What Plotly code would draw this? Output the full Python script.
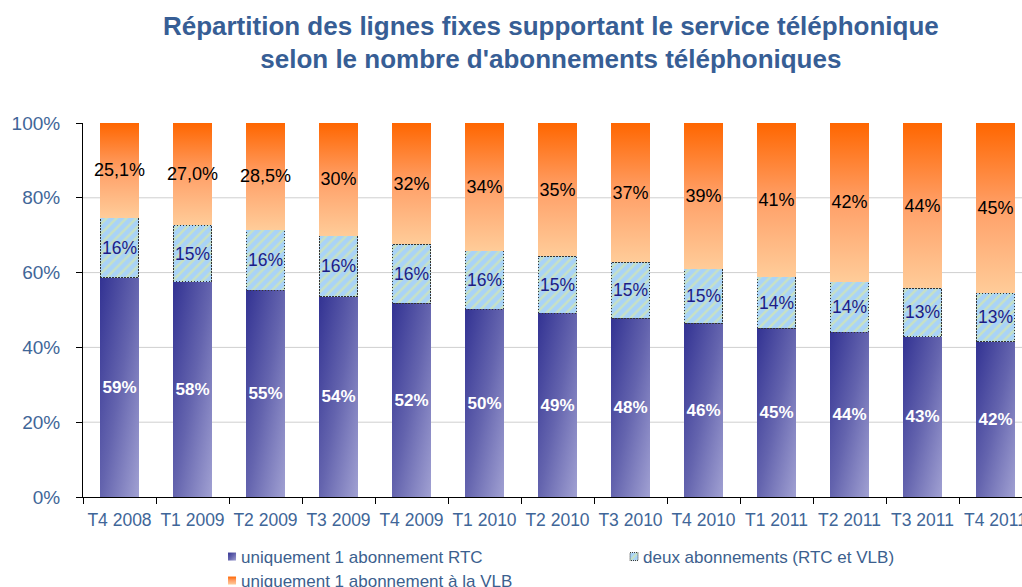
import plotly.graph_objects as go

# ---------------- data ----------------
categories = ["T4 2008", "T1 2009", "T2 2009", "T3 2009", "T4 2009", "T1 2010", "T2 2010",
              "T3 2010", "T4 2010", "T1 2011", "T2 2011", "T3 2011", "T4 2011"]
rtc_only = [58.6, 57.5, 55.3, 53.6, 51.8, 50.2, 49.1, 47.8, 46.4, 45.1, 44.0, 42.9, 41.5]
both_subs = [16.1, 15.2, 16.1, 16.2, 15.8, 15.6, 15.3, 15.0, 14.6, 13.8, 13.6, 12.9, 13.0]
vlb_only = [25.3, 27.3, 28.6, 30.2, 32.4, 34.2, 35.6, 37.2, 39.0, 41.1, 42.4, 44.2, 45.5]
rtc_labels = ["59%", "58%", "55%", "54%", "52%", "50%", "49%", "48%", "46%", "45%", "44%", "43%", "42%"]
both_labels = ["16%", "15%", "16%", "16%", "16%", "16%", "15%", "15%", "15%", "14%", "14%", "13%", "13%"]
vlb_labels = ["25,1%", "27,0%", "28,5%", "30%", "32%", "34%", "35%", "37%", "39%", "41%", "42%", "44%", "45%"]
series_names = ["uniquement 1 abonnement RTC", "deux abonnements (RTC et VLB)",
                "uniquement 1 abonnement à la VLB"]
y_tick_vals = [0, 20, 40, 60, 80, 100]
y_tick_text = ["0%", "20%", "40%", "60%", "80%", "100%"]
grid_vals = [20, 40, 60, 80]

FONT = "Liberation Sans, Arial, sans-serif"
AXIS_BLUE = "#3F6698"

fig = go.Figure()
common = dict(textposition="inside", insidetextanchor="middle", textangle=0,
              constraintext="none", hoverinfo="skip", cliponaxis=False)
fig.add_trace(go.Bar(
    x=categories, y=rtc_only, name=series_names[0], text=rtc_labels,
    marker=dict(color="#5A5AA8", line=dict(width=0)),
    insidetextfont=dict(family=FONT, size=17, color="white", weight="bold"),
    legend="legend", **common))
fig.add_trace(go.Bar(
    x=categories, y=both_subs, name=series_names[1], text=both_labels,
    marker=dict(color="#A9D3F7", line=dict(color="#333333", width=1),
                pattern=dict(shape="/", fgcolor="#E6EF90", bgcolor="#A9D3F7",
                             size=7, solidity=0.35)),
    insidetextfont=dict(family=FONT, size=17.5, color="#1C1C86"),
    legend="legend2", **common))
fig.add_trace(go.Bar(
    x=categories, y=vlb_only, name=series_names[2], text=vlb_labels,
    marker=dict(color="#FF9A5A", line=dict(width=0)),
    insidetextfont=dict(family=FONT, size=18, color="black"),
    legend="legend3", **common))

for g in grid_vals:
    fig.add_shape(type="line", xref="paper", x0=0, x1=1, yref="y", y0=g, y1=g,
                  line=dict(color="#CFCFCF", width=1), layer="below")

leg_common = dict(orientation="v", xanchor="left", yanchor="middle", bgcolor="rgba(0,0,0,0)",
                  font=dict(family=FONT, size=17, color="#3C5F8E"), itemwidth=30,
                  itemclick=False, itemdoubleclick=False)

fig.update_layout(
    width=1022, height=587,
    margin=dict(l=83, r=0, t=123, b=90, pad=0, autoexpand=False),
    paper_bgcolor="white", plot_bgcolor="white",
    barmode="stack", bargap=0.479,
    font=dict(family=FONT),
    title=dict(text="Répartition des lignes fixes supportant le service téléphonique<br>"
                    "selon le nombre d'abonnements téléphoniques",
               x=0.539, xanchor="center", xref="container", y=0.941, yanchor="top",
               yref="container", automargin=False,
               font=dict(family=FONT, size=26, color="#375E95", weight="bold")),
    xaxis=dict(type="category", range=[-0.5, 12.363], showgrid=False,
               showline=True, linecolor="#000000", linewidth=1,
               ticks="outside", tickson="boundaries", ticklen=6, tickcolor="#000000",
               ticklabelstandoff=7, tickangle=0,
               tickfont=dict(family=FONT, size=17.5, color=AXIS_BLUE)),
    yaxis=dict(range=[0, 100], tickvals=y_tick_vals, ticktext=y_tick_text,
               showgrid=False, zeroline=False, showline=True, linecolor="#000000",
               linewidth=1, ticks="outside", ticklen=6, tickcolor="#000000",
               ticklabelstandoff=12,
               tickfont=dict(family=FONT, size=19, color=AXIS_BLUE)),
    legend=dict(x=0.1257, y=-0.1604, **leg_common),
    legend2=dict(x=0.5538, y=-0.1604, **leg_common),
    legend3=dict(x=0.1257, y=-0.2246, **leg_common),
    showlegend=True,
)

post_js = r"""
(function(){
  document.body.style.margin = '0';
  document.body.style.padding = '0';
  document.body.style.overflow = 'hidden';
  var gd = document.getElementById('{plot_id}');
  var ns = 'http://www.w3.org/2000/svg';
  function mk(svg, id, c, stops){
    if (document.getElementById(id)) return;
    var defs = svg.querySelector('defs');
    if (!defs) { defs = document.createElementNS(ns, 'defs'); svg.insertBefore(defs, svg.firstChild); }
    var g = document.createElementNS(ns, 'linearGradient');
    g.setAttribute('id', id);
    g.setAttribute('x1', c[0]); g.setAttribute('y1', c[1]);
    g.setAttribute('x2', c[2]); g.setAttribute('y2', c[3]);
    stops.forEach(function(s){
      var st = document.createElementNS(ns, 'stop');
      st.setAttribute('offset', s[0]); st.setAttribute('stop-color', s[1]);
      g.appendChild(st);
    });
    defs.appendChild(g);
  }
  function kindOf(p){
    var k = p.getAttribute('data-kind');
    if (k) return k;
    var f = (p.style.fill || p.getAttribute('fill') || '').replace(/\s/g, '');
    if (f.indexOf('url(') >= 0) k = 'both';
    else if (f.indexOf('255,154') >= 0 || f.toLowerCase().indexOf('ff9a5a') >= 0) k = 'vlb';
    else if (f.indexOf('90,90,168') >= 0 || f.toLowerCase().indexOf('5a5aa8') >= 0) k = 'rtc';
    else k = 'unknown';
    p.setAttribute('data-kind', k);
    return k;
  }
  function apply(){
    try {
      var svg = gd.querySelector('svg.main-svg');
      if (!svg) return;
      mk(svg, 'gradBlueRTC', [0,0,1,1], [[0,'#333393'],[0.5,'#6464AE'],[1,'#A0A0D2']]);
      mk(svg, 'gradOrangeVLB', [0,0,0,1], [[0,'#FF6600'],[0.5,'#FFA068'],[1,'#FFCC99']]);
      var traces = gd.querySelectorAll('.barlayer .trace');
      if (traces.length >= 3) {
        traces[0].querySelectorAll('.point path').forEach(function(p){ p.style.fill = 'url(#gradBlueRTC)'; });
        traces[1].querySelectorAll('.point path').forEach(function(p){ p.style.strokeDasharray = '1.5,1.5'; });
        traces[2].querySelectorAll('.point path').forEach(function(p){ p.style.fill = 'url(#gradOrangeVLB)'; });
      }
    } catch(e) {}
    var paths = document.querySelectorAll('.legendpoints path');
    for (var i = 0; i < paths.length; i++) {
      try {
        var p = paths[i];
        var k = kindOf(p);
        if (k === 'unknown') continue;
        if (p.getAttribute('d') !== 'M4,4H-4V-4H4Z') p.setAttribute('d', 'M4,4H-4V-4H4Z');
        if (p.getAttribute('transform') !== 'translate(31,0)') p.setAttribute('transform', 'translate(31,0)');
        if (k === 'both') { p.style.strokeDasharray = '1,1'; }
        else if (k === 'rtc') { p.style.fill = 'url(#gradBlueRTC)'; }
        else if (k === 'vlb') { p.style.fill = 'url(#gradOrangeVLB)'; }
      } catch(e) {}
    }
  }
  apply();
  var n = 0;
  var iv = setInterval(function(){ apply(); n++; if (n > 40) clearInterval(iv); }, 60);
  if (gd.on) gd.on('plotly_afterplot', function(){ setTimeout(apply, 0); });
})();
"""

fig.write_html("out.html", post_script=post_js, config={"staticPlot": True})
